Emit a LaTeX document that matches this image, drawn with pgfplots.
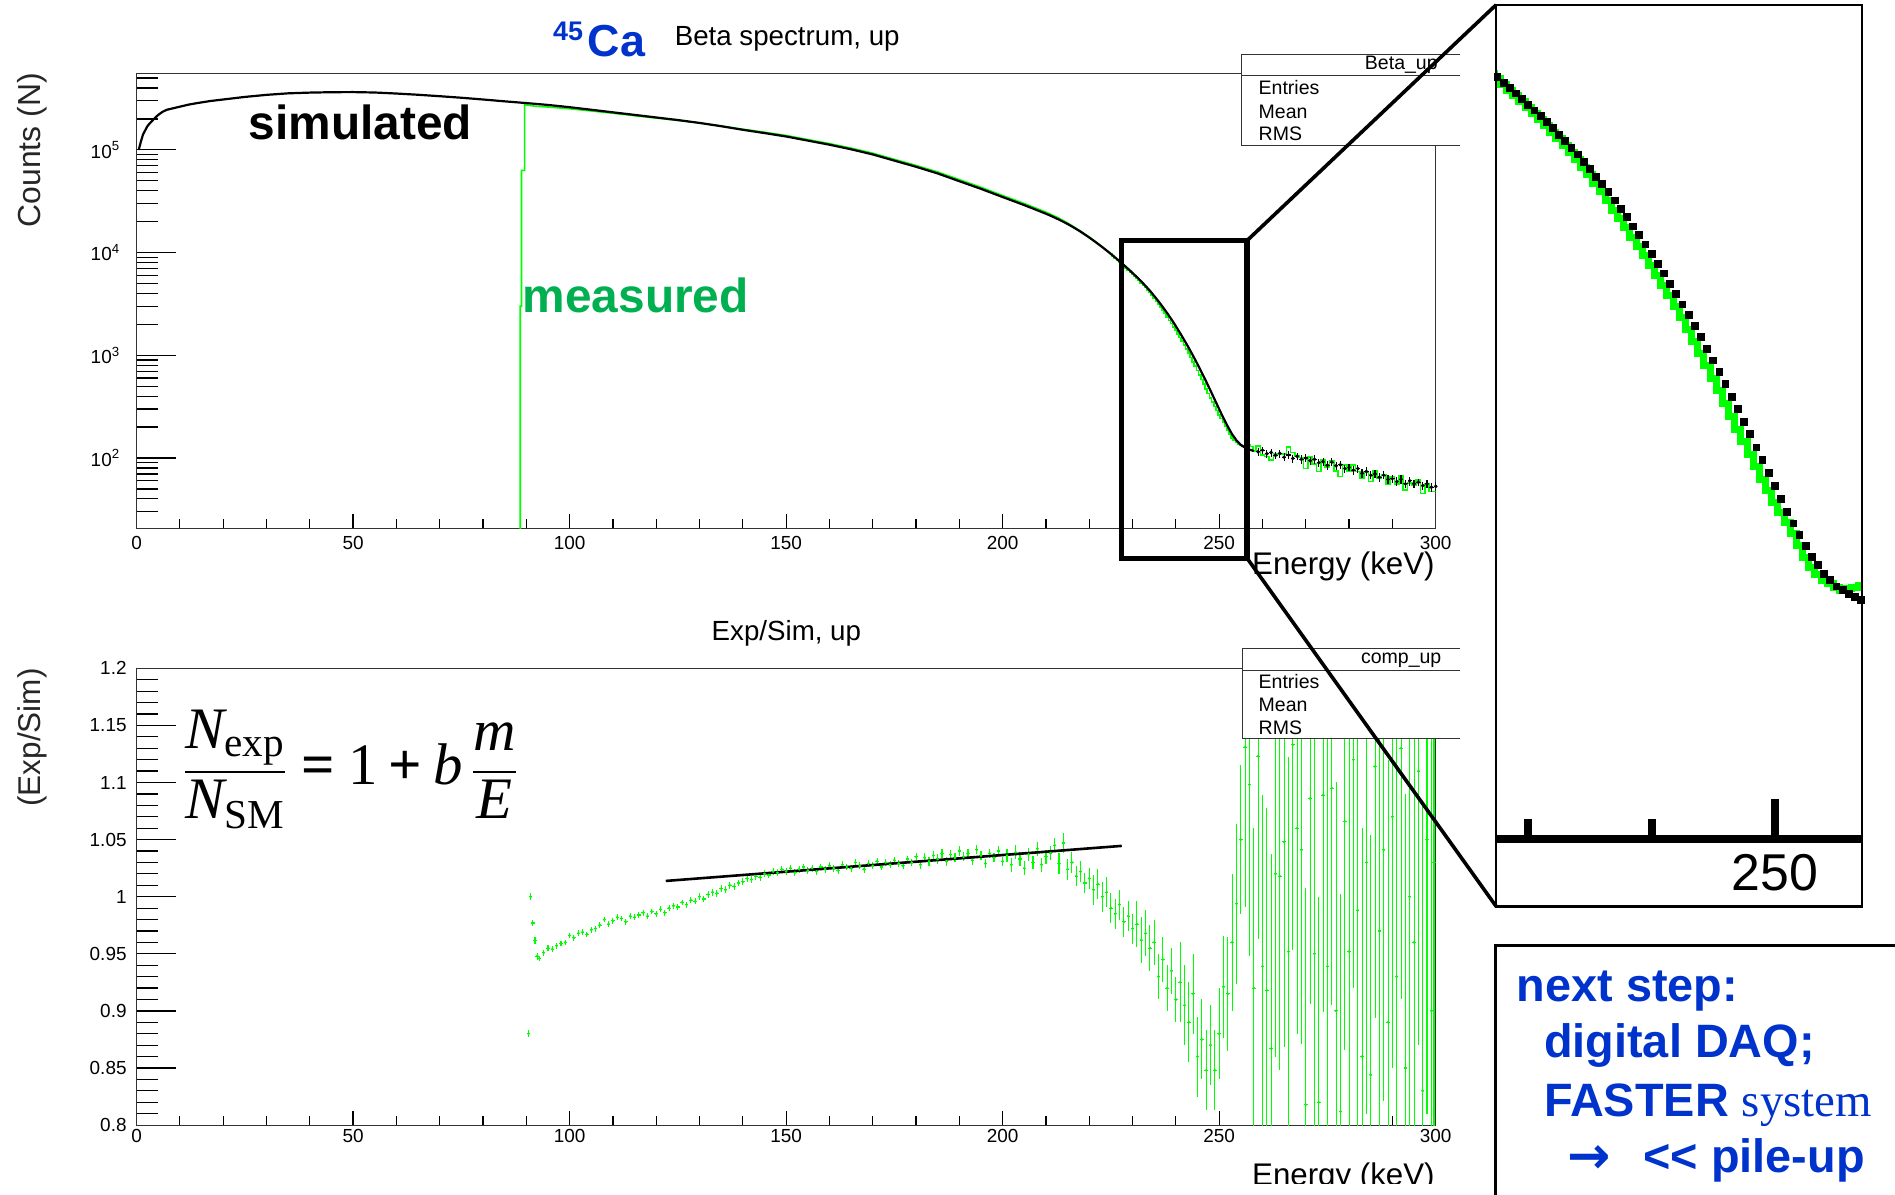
\documentclass[border=0pt]{standalone}
\usepackage{fontspec}
\setmainfont{Liberation Sans}
\newfontfamily\serif{Liberation Serif}
\newfontfamily\dejavu{DejaVu Sans}
\usepackage{amsmath}
\usepackage{graphicx}
\usepackage{pgfplots}
\usepackage{pgfplotstable}
\pgfplotsset{compat=1.18}
\definecolor{rgreen}{RGB}{0,255,0}
\definecolor{mgreen}{RGB}{0,176,80}
\definecolor{tblue}{RGB}{0,51,204}
\newcommand\fs[1]{\fontsize{#1}{#1}\selectfont}

% simulated spectrum (smooth part)
\pgfplotstableread{
E N
0.5 100000
1 120200
1.5 141300
2 154900
2.5 169800
3 179900
4 199500
5 218800
6 234400
7 245500
8 251200
9 257000
10 263000
12 275400
14 285100
17 298500
20 309000
25 327300
30 342800
35 354800
40 360600
45 363900
50 364800
55 361400
60 353200
65 343600
70 332700
75 321400
80 309000
85 296500
90 285100
95 273500
100 260000
105 245500
110 231700
115 218800
120 206500
125 195000
130 182800
135 169800
140 156700
145 145600
150 134900
155 123000
160 112200
165 101200
170 90200
175 78500
180 68400
185 58900
190 49500
195 41700
200 34700
205 28970
210 23880
211 22910
212 21930
213 20940
214 19950
215 18970
216 17950
217 16940
218 15960
219 14960
220 14000
221 13060
222 12160
223 11300
224 10470
224.5 10070
225 9680
225.5 9300
226 8930
226.5 8570
227 8220
227.5 7880
228 7550
228.5 7230
229 6920
229.5 6620
230 6320
230.5 6040
231 5770
231.5 5500
232 5240
232.5 4980
233 4730
233.5 4480
234 4250
234.5 4010
235 3780
235.5 3560
236 3350
236.5 3140
237 2940
237.5 2750
238 2570
238.5 2390
239 2230
239.5 2070
240 1920
240.5 1770
241 1640
241.5 1510
242 1390
242.5 1280
243 1175
243.5 1075
244 984
244.5 897
245 818
245.5 744
246 676
246.5 612
247 555
247.5 501
248 453
248.5 408
249 368
249.5 332
250 299
250.5 270
251 244
251.5 222
252 202
252.5 185
253 170
253.5 159
254 148
254.5 141
255 134
255.5 130
256 126
256.5 123
257 120.5
257.5 119
258 117
}\simA

% simulated spectrum (tail, with errors)
\pgfplotstableread{
E N err
259 115 10
260 119 10
261 110 10
262 113 10
263 106 9
264 111 10
265 102 9
266 107 9
267 99 9
268 104 9
269 97 9
270 100 9
271 94 8
272 97 9
273 90 8
274 92 8
275 85 8
276 91 8
277 84 8
278 86 8
279 79 7
280 81 7
281 76 7
282 79 7
283 71 7
284 74 7
285 68 6
286 70 6
287 65 6
288 68 6
289 62 6
290 63 6
291 59 6
292 62 6
293 56 5
294 60 6
295 56 5
296 58 5
297 54 5
298 56 5
299 52 5
300 53 5
}\simB

% measured spectrum, rising edge and smooth part
\pgfplotstableread{
E N
88.6 1
88.6 3000
88.9 3000
88.9 63000
89.6 63000
89.6 275000
92 266000
95 261000
100 251000
105 239000
110 227000
115 215000
120 203700
125 193200
130 182600
135 170800
140 158800
145 148400
150 138000
155 125900
160 115000
165 103900
170 92800
175 80800
180 70500
185 60900
190 51300
195 43200
200 35900
205 30000
210 24760
213 21630
216 18310
218 16150
220 14170
222 12250
224 10510
225 9680
}\measA

% measured spectrum, histogram part
\pgfplotstableread{
E N
225 9680
225.5 9250
226 8840
226.5 8470
227 8110
227.5 7770
228 7440
228.5 7100
229 6780
229.5 6470
230 6170
230.5 5900
231 5630
231.5 5350
232 5080
232.5 4820
233 4560
233.5 4310
234 4090
234.5 3840
235 3610
235.5 3380
236 3170
236.5 2940
237 2720
237.5 2540
238 2360
238.5 2190
239 2040
239.5 1890
240 1750
240.5 1610
241 1490
241.5 1370
242 1260
242.5 1150
243 1050
243.5 955
244 866
244.5 782
245 708
245.5 641
246 581
246.5 523
247 472
247.5 426
248 385
248.5 349
249 316
249.5 289
250 263
250.5 243
251 224
251.5 204
252 186
252.5 169
253 156
253.5 148
254 141
254.5 137
255 133
255.5 130
256 132
256.5 133
257 135
257.5 129
258 117
259 131
260 107
261 103
262 96
263 110
264 108
265 109
266 128
267 113
268 105
269 101
270 79
271 102
272 87
273 74
274 96
275 82
276 94
277 75
278 66
279 86
280 74
281 85
282 74
283 63
284 73
285 59
286 75
287 64
288 68
289 56
290 66
291 56
292 67
293 49
294 57
295 54
296 61
297 45
298 56
299 47
300 47
}\measB

% ratio Exp/Sim
\pgfplotstableread{
E R err
90.5 0.880 0.003
91 1.000 0.003
91.5 0.977 0.003
92 0.962 0.003
92.5 0.948 0.003
93 0.946 0.0025
94 0.951 0.0025
95 0.955 0.0025
96 0.954 0.0025
97 0.957 0.0025
98 0.959 0.0025
99 0.960 0.0025
100 0.966 0.0025
101 0.964 0.0025
102 0.968 0.0025
103 0.969 0.0025
104 0.967 0.0025
105 0.971 0.0025
106 0.972 0.0025
107 0.975 0.0025
108 0.980 0.0025
109 0.976 0.0025
110 0.979 0.0025
111 0.982 0.0025
112 0.981 0.0025
113 0.978 0.0025
114 0.983 0.0025
115 0.982 0.0025
116 0.984 0.0025
117 0.986 0.0025
118 0.983 0.0025
119 0.987 0.0025
120 0.985 0.0025
121 0.989 0.0025
122 0.986 0.0025
123 0.990 0.0025
124 0.992 0.0025
125 0.991 0.0025
126 0.995 0.0025
127 0.993 0.0025
128 0.997 0.0025
129 0.996 0.0025
130 1.000 0.003
131 0.998 0.003
132 1.002 0.003
133 1.004 0.003
134 1.003 0.003
135 1.007 0.003
136 1.006 0.003
137 1.010 0.003
138 1.009 0.003
139 1.012 0.003
140 1.013 0.003
141 1.016 0.003
142 1.015 0.003
143 1.018 0.003
144 1.017 0.003
145 1.020 0.003
146 1.019 0.003
147 1.022 0.003
148 1.021 0.003
149 1.024 0.003
150 1.022 0.003
151 1.025 0.003
152 1.021 0.003
153 1.024 0.003
154 1.026 0.003
155 1.023 0.003
156 1.025 0.003
157 1.022 0.003
158 1.026 0.003
159 1.024 0.003
160 1.027 0.003
161 1.025 0.003
162 1.023 0.003
163 1.028 0.003
164 1.026 0.003
165 1.025 0.003
166 1.030 0.003
167 1.027 0.003
168 1.024 0.003
169 1.029 0.003
170 1.027 0.003
171 1.031 0.003
172 1.026 0.003
173 1.030 0.003
174 1.028 0.003
175 1.032 0.003
176 1.029 0.003
177 1.027 0.003
178 1.033 0.003
179 1.030 0.003
180 1.035 0.003
181 1.028 0.004
182 1.034 0.004
183 1.031 0.004
184 1.036 0.004
185 1.033 0.004
186 1.038 0.004
187 1.031 0.004
188 1.037 0.004
189 1.034 0.004
190 1.040 0.004
191 1.035 0.004
192 1.038 0.004
193 1.032 0.004
194 1.041 0.004
195 1.036 0.004
196 1.029 0.004
197 1.038 0.004
198 1.034 0.004
199 1.040 0.004
200 1.031 0.004
201 1.036 0.006
202 1.028 0.006
203 1.039 0.006
204 1.033 0.006
205 1.025 0.006
206 1.037 0.006
207 1.030 0.006
208 1.042 0.006
209 1.028 0.006
210 1.035 0.006
211 1.038 0.006
212 1.045 0.006
213 1.029 0.009
214 1.047 0.009
215 1.024 0.009
216 1.030 0.009
217 1.018 0.009
218 1.022 0.009
219 1.012 0.009
220 1.016 0.009
221 1.006 0.013
222 1.011 0.013
223 1.000 0.013
224 1.004 0.013
225 0.990 0.013
226 0.985 0.013
227 0.993 0.013
228 0.978 0.013
229 0.983 0.013
230 0.972 0.013
231 0.976 0.02
232 0.962 0.02
233 0.968 0.02
234 0.955 0.02
235 0.960 0.02
236 0.930 0.02
237 0.945 0.02
238 0.920 0.02
239 0.935 0.02
240 0.910 0.02
241 0.925 0.035
242 0.905 0.035
243 0.890 0.035
244 0.915 0.035
245 0.860 0.035
246 0.875 0.035
247 0.848 0.035
248 0.870 0.035
249 0.848 0.035
250 0.880 0.04
251 0.921 0.045
252 0.915 0.05
253 0.960 0.06
254 0.994 0.07
255 1.050 0.065
256 1.131 0.14
257 1.098 0.15
258 0.920 0.14
259 1.123 0.16
260 0.939 0.15
261 0.918 0.16
262 0.867 0.17
263 1.020 0.16
264 1.018 0.17
265 1.048 0.18
266 0.952 0.17
267 1.133 0.18
268 1.060 0.18
269 1.041 0.17
270 0.818 0.19
271 1.086 0.18
272 0.950 0.19
273 0.820 0.18
274 1.089 0.19
275 0.939 0.20
276 1.095 0.19
277 0.900 0.20
278 0.812 0.19
279 1.066 0.20
280 0.952 0.21
281 1.120 0.20
282 0.988 0.21
283 0.860 0.20
284 1.030 0.22
285 0.844 0.21
286 1.114 0.22
287 0.970 0.21
288 1.041 0.22
289 0.890 0.23
290 1.070 0.22
291 0.930 0.23
292 1.130 0.22
293 0.850 0.24
294 1.000 0.23
295 0.960 0.24
296 1.110 0.24
297 0.830 0.25
298 1.050 0.24
299 0.900 0.25
299.6 1.030 0.25
}\ratio

\pgfplotsset{
  rootaxis/.style={
    scale only axis, clip=true,
    width=649.57bp,
    xmin=0, xmax=300,
    xtick={0,50,100,150,200,250,300}, minor x tick num=4,
    tick pos=left, tick align=inside,
    axis line style={line width=0.6bp, black!80},
    every tick/.style={line width=0.6bp, black},
    major tick length=19.7bp, minor tick length=10.6bp,
    xtick style={/pgfplots/major tick length=7.1bp, /pgfplots/minor tick length=4.4bp},
    tick label style={font=\fs{9.5}, inner sep=0pt},
    /pgf/number format/assume math mode=true,
  }
}

\begin{document}
\begin{tikzpicture}
\useasboundingbox (0,0) rectangle (947.5bp,597.5bp);

% ---------- top: spectra ----------
\begin{axis}[rootaxis, at={(68.28bp,333.44bp)}, anchor=south west, height=227.2bp,
  ymode=log, ymin=20.78, ymax=550800,
  ytick={100,1000,10000,100000},
  yticklabels={10\textsuperscript{2},10\textsuperscript{3},10\textsuperscript{4},10\textsuperscript{5}},
  minor ytick={30,40,50,60,70,80,90,200,300,400,500,600,700,800,900,2000,3000,4000,5000,6000,7000,8000,9000,20000,30000,40000,50000,60000,70000,80000,90000,200000,300000,400000,500000},
  xticklabel style={yshift=-4bp}, yticklabel style={xshift=-8bp}]
\addplot[rgreen, line width=0.8bp] table[x=E,y=N] {\measA};
\addplot[rgreen, line width=0.8bp, const plot mark mid] table[x=E,y=N] {\measB};
\addplot[black, line width=1.1bp] table[x=E,y=N] {\simA};
\addplot[black, only marks, mark=*, mark size=0.7bp,
  error bars/.cd, y dir=both, y explicit, x dir=both, x fixed=0.5,
  error bar style={line width=0.6bp, black}, error mark=none]
  table[x=E,y=N,y error=err] {\simB};
\end{axis}

% ---------- bottom: ratio ----------
\begin{axis}[rootaxis, at={(68.28bp,34.94bp)}, anchor=south west, height=228.41bp,
  ymin=0.8, ymax=1.2,
  ytick={0.8,0.85,0.9,0.95,1,1.05,1.1,1.15,1.2}, minor y tick num=4,
  xticklabel style={yshift=-2bp}, yticklabel style={xshift=-4.8bp}]
\addplot[rgreen, only marks, mark=*, mark size=0.45bp, mark options={fill=black!60!green, draw=none},
  error bars/.cd, y dir=both, y explicit, x dir=both, x fixed=0.4,
  error bar style={line width=0.55bp, rgreen}, error mark=none]
  table[x=E,y=R,y error=err] {\ratio};
\addplot[black, line width=1.3bp] coordinates {(122.2,1.0138) (227.5,1.0445)};
\end{axis}

% ---------- inset (zoom) ----------
\begin{axis}[at={(748.06bp,178.15bp)}, anchor=south west, scale only axis,
  width=183.08bp, height=416.93bp, clip=true,
  xmin=227.4, xmax=257.1, ymode=log, ymin=17.82, ymax=14060,
  axis x line*=bottom, axis y line=none,
  x axis line style={line width=4bp, black},
  xtick={250}, minor xtick={230,240}, tick align=inside,
  major tick length=20bp, minor tick length=9.7bp,
  every tick/.style={line width=4bp, black},
  xticklabel style={font=\fs{26}, inner sep=0pt, yshift=-7.6bp},
  /pgf/number format/assume math mode=true]
\addplot[rgreen, line width=3.5bp, const plot mark mid] table[x=E,y=N] {\measB};
\addplot[black, only marks, mark=square*, mark size=1.7bp] table[x=E,y=N] {\simA};
\end{axis}

% ---------- annotations (coordinates in reference pixels) ----------
\begin{scope}[x=0.60425bp, y=-0.60425bp, shift={(0bp,597.5bp)}]
  % titles
  \node[anchor=base, font=\fs{13.9}, inner sep=0] at (651.4,37.4) {Beta spectrum, up};
  \node[anchor=base west, font=\bfseries\fs{13.5}, text=tblue, inner sep=0] at (457.4,33.3) {45};
  \node[anchor=base west, font=\bfseries\fs{22.5}, text=tblue, inner sep=0] at (486,46.8) {Ca};
  \node[anchor=base, font=\fs{13.9}, inner sep=0] at (650.7,530.4) {Exp/Sim, up};
  % axis titles
  \node[rotate=90, font=\fs{16}, text=black!85, inner sep=0] at (26.3,124.4) {Counts (N)};
  \node[rotate=90, font=\fs{15.8}, text=black!85, inner sep=0] at (27,610.3) {(Exp/Sim)};
  \node[anchor=base east, font=\fs{15.7}, inner sep=0] at (1187.5,475.8) {Energy (keV)};
  \begin{scope}
    \clip (1000,940) rectangle (1236,979.2);
    \node[anchor=base east, font=\fs{15.7}, inner sep=0] at (1187.5,981.2) {Energy (keV)};
  \end{scope}
  % labels in plot
  \node[anchor=base, font=\bfseries\fs{24}, inner sep=0] at (298.2,115.8) {simulated};
  \node[anchor=base west, font=\bfseries\fs{24}, text=mgreen, inner sep=0] at (432.3,258.4) {measured};
  \node[anchor=west, inner sep=0, font=\fs{29.5}] at (151,637)
    {$\displaystyle \frac{\text{\serif\itshape N}_{\text{\serif exp}}}{\text{\serif\itshape N}_{\text{\serif SM}}}\mathrel{\text{\serif\bfseries =}}\text{\serif 1}\mathbin{\text{\serif\bfseries +}}\text{\serif\itshape b}\,\frac{\text{\serif\itshape m}}{\text{\serif\itshape E}}$};
  % stat boxes
  \fill[white] (1027.4,45.3) rectangle (1208,120.3);
  \draw[line width=0.6bp, black!80] (1208,45.3) -- (1027.4,45.3) -- (1027.4,120.3) -- (1208,120.3);
  \draw[line width=0.6bp, black!80] (1027.4,62.3) -- (1208,62.3);
  \node[anchor=base east, font=\fs{9.8}, inner sep=0] at (1190,57.8) {Beta\_up};
  \node[anchor=base west, font=\fs{9.8}, inner sep=0] at (1041.2,78.5) {Entries};
  \node[anchor=base west, font=\fs{9.8}, inner sep=0] at (1041.2,97.8) {Mean};
  \node[anchor=base west, font=\fs{9.8}, inner sep=0] at (1041.2,116.3) {RMS};
  \fill[white] (1028,536.4) rectangle (1208,611.1);
  \draw[line width=0.6bp, black!80] (1208,536.4) -- (1028,536.4) -- (1028,611.1) -- (1208,611.1);
  \draw[line width=0.6bp, black!80] (1028,554.6) -- (1208,554.6);
  \node[anchor=base east, font=\fs{9.8}, inner sep=0] at (1193,548.9) {comp\_up};
  \node[anchor=base west, font=\fs{9.8}, inner sep=0] at (1041.2,569.6) {Entries};
  \node[anchor=base west, font=\fs{9.8}, inner sep=0] at (1041.2,588.9) {Mean};
  \node[anchor=base west, font=\fs{9.8}, inner sep=0] at (1041.2,607.4) {RMS};
  % zoom frame and lines
  \draw[line width=2.7bp] (928,199) rectangle (1032,462);
  \draw[line width=1.8bp] (1032,199) -- (1238,4);
  \draw[line width=1.8bp] (1032,462) -- (1238,750);
  \draw[line width=1.2bp] (1238,4) rectangle (1541,750);
  % next step box
  \draw[line width=1.3bp] (1237.5,1100) -- (1237.5,782.3) -- (1700,782.3);
  \node[anchor=base west, inner sep=0, font=\bfseries\fs{23.5}, text=tblue] at (1254.9,828.7) {next step:};
  \node[anchor=base west, inner sep=0, font=\bfseries\fs{23.5}, text=tblue] at (1277.4,874.9) {digital DAQ;};
  \node[anchor=base west, inner sep=0, font=\bfseries\fs{23.5}, text=tblue] at (1277.4,923.5) {FASTER {\serif\mdseries system}};
  \node[anchor=base west, inner sep=0, font=\dejavu\bfseries\fs{26}, text=tblue] at (1297,971) {→};
  \node[anchor=base west, inner sep=0, font=\bfseries\fs{23.5}, text=tblue] at (1359.7,970.6) {<{}< pile-up};
\end{scope}
\end{tikzpicture}
\end{document}
